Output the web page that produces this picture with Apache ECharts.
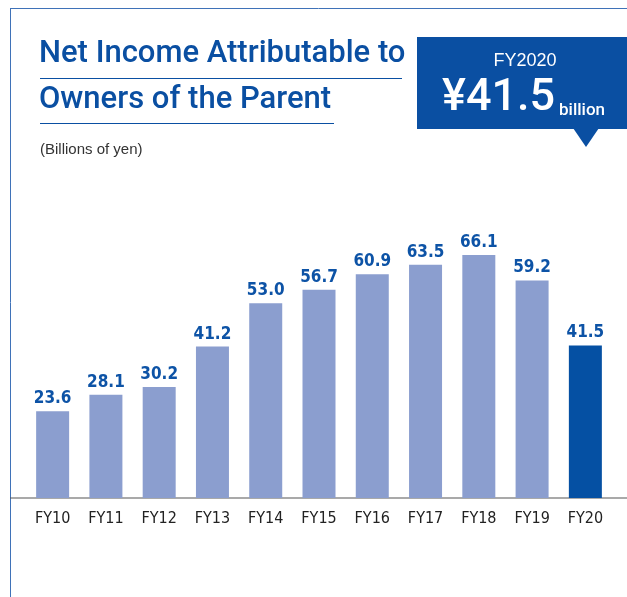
<!DOCTYPE html>
<html>
<head>
<meta charset="utf-8">
<script src="https://cdn.jsdelivr.net/npm/echarts@6/dist/echarts.min.js"></script>
<style>
  html, body { margin: 0; padding: 0; background: #fff; }
  #main { width: 627px; height: 597px; }
</style>
</head>
<body>
<div id="main"></div>
<script>
// data
const categories = ['FY10', 'FY11', 'FY12', 'FY13', 'FY14', 'FY15', 'FY16', 'FY17', 'FY18', 'FY19', 'FY20'];
const netIncome = [23.6, 28.1, 30.2, 41.2, 53.0, 56.7, 60.9, 63.5, 66.1, 59.2, 41.5];

const BLUE = '#0a4fa2';
const LIGHT = '#8b9ecf';
const NARROW = '"Liberation Sans Narrow", "DejaVu Sans Condensed", Arial, sans-serif';
const HEAD = 'Roboto, "Liberation Sans", Arial, sans-serif';

const chart = echarts.init(document.getElementById('main'));

const option = {
  animation: false,
  grid: { left: 26, right: 15, top: 204, bottom: 99 },
  xAxis: {
    type: 'category',
    data: categories,
    axisLine: { show: false },
    axisTick: { show: false },
    axisLabel: {
      color: '#222',
      fontFamily: NARROW,
      fontSize: 16,
      margin: 13
    }
  },
  yAxis: {
    type: 'value',
    min: 0,
    max: 80,
    show: false,
    splitLine: { show: false }
  },
  series: [{
    type: 'bar',
    barWidth: 33,
    data: netIncome.map((v, i) => ({
      value: v,
      itemStyle: { color: i === netIncome.length - 1 ? '#0550a3' : LIGHT }
    })),
    label: {
      show: true,
      position: 'top',
      distance: 4,
      color: '#0d53a6',
      fontFamily: NARROW,
      fontWeight: 'bold',
      fontSize: 17,
      formatter: p => p.value.toFixed(1)
    }
  }],
  graphic: [
    // frame lines
    { type: 'line', shape: { x1: 10.5, y1: 8, x2: 10.5, y2: 597 }, style: { stroke: '#3f72b8', lineWidth: 1 } },
    { type: 'line', shape: { x1: 10, y1: 8.5, x2: 627, y2: 8.5 }, style: { stroke: '#3f72b8', lineWidth: 1 } },
    // baseline
    { type: 'line', shape: { x1: 10, y1: 498, x2: 627, y2: 498 }, style: { stroke: '#555', lineWidth: 1.2 } },
    // title
    { type: 'text', left: 39, top: 39, style: { text: 'Net Income Attributable to', fill: BLUE, font: '500 31px ' + HEAD } },
    { type: 'line', shape: { x1: 40, y1: 78.5, x2: 402, y2: 78.5 }, style: { stroke: BLUE, lineWidth: 1 } },
    { type: 'text', left: 39, top: 85, style: { text: 'Owners of the Parent', fill: BLUE, font: '500 31px ' + HEAD } },
    { type: 'line', shape: { x1: 40, y1: 123.5, x2: 334, y2: 123.5 }, style: { stroke: BLUE, lineWidth: 1 } },
    { type: 'text', left: 40, top: 142, style: { text: '(Billions of yen)', fill: '#333', font: '15px "Liberation Sans", Arial, sans-serif' } },
    // highlight box
    { type: 'rect', shape: { x: 417, y: 37, width: 210, height: 92 }, style: { fill: BLUE } },
    { type: 'polygon', shape: { points: [[573, 128], [599, 128], [586, 147]] }, style: { fill: BLUE } },
    { type: 'text', x: 525, y: 61, style: { text: 'FY2020', fill: '#fff', font: '18px "Liberation Sans", Arial, sans-serif', align: 'center', verticalAlign: 'middle' } },
    { type: 'text', x: 442, y: 121.5, style: { text: '¥41.5', fill: '#fff', font: '500 45px ' + HEAD, align: 'left', verticalAlign: 'bottom' } },
    { type: 'text', x: 559, y: 119, style: { text: 'billion', fill: '#fff', font: '500 17px ' + HEAD, align: 'left', verticalAlign: 'bottom' } }
  ]
};

chart.setOption(option);
</script>
</body>
</html>
